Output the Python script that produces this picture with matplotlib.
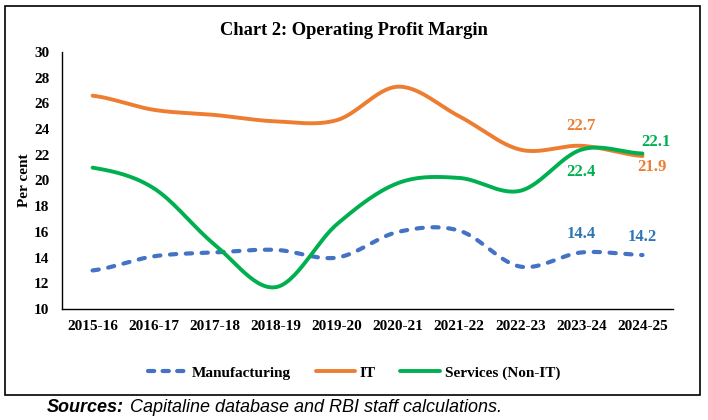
import numpy as np
import matplotlib.pyplot as plt
from matplotlib.patches import Rectangle
from matplotlib.lines import Line2D

years = ['2015-16', '2016-17', '2017-18', '2018-19', '2019-20',
         '2020-21', '2021-22', '2022-23', '2023-24', '2024-25']
manufacturing = [13.0, 14.1, 14.4, 14.6, 14.0, 16.0, 16.1, 13.3, 14.4, 14.2]
it = [26.6, 25.5, 25.1, 24.6, 24.7, 27.3, 25.0, 22.4, 22.7, 21.9]
services = [21.0, 19.4, 15.0, 11.7, 16.6, 19.8, 20.2, 19.2, 22.4, 22.1]

c_man = '#4472C4'
c_it = '#ED7D31'
c_srv = '#00B050'
c_man_lbl = '#2E75B6'


def smooth(y, n=30):
    # excel style smoothed line (catmull-rom between the points)
    y = np.asarray(y, dtype=float)
    p = np.concatenate([[y[0]], y, [y[-1]]])
    xs, ys = [], []
    t = np.linspace(0, 1, n, endpoint=False)
    for i in range(len(y) - 1):
        p0, p1, p2, p3 = p[i], p[i + 1], p[i + 2], p[i + 3]
        seg = 0.5 * ((2 * p1) + (-p0 + p2) * t
                     + (2 * p0 - 5 * p1 + 4 * p2 - p3) * t ** 2
                     + (-p0 + 3 * p1 - 3 * p2 + p3) * t ** 3)
        xs.append(i + t)
        ys.append(seg)
    xs.append([len(y) - 1])
    ys.append([y[-1]])
    return np.concatenate(xs), np.concatenate(ys)


plt.rcParams['font.family'] = 'Liberation Serif'
plt.rcParams['font.weight'] = 'bold'

fig = plt.figure(figsize=(7.08, 4.2), dpi=100)
ax = fig.add_axes([0.0876, 0.2643, 0.863, 0.6119])

x, y = smooth(manufacturing)
ax.plot(x, y, color=c_man, lw=3, dashes=(1.5, 2.3), dash_capstyle='round')
x, y = smooth(it)
ax.plot(x, y, color=c_it, lw=2.8, solid_capstyle='round')
x, y = smooth(services)
ax.plot(x, y, color=c_srv, lw=2.8, solid_capstyle='round')

ax.set_xlim(-0.5, 9.5)
ax.set_ylim(10, 30)
ax.set_yticks(np.arange(10, 31, 2))
ax.set_xticks(range(len(years)))
ax.set_xticklabels(years)
ax.tick_params(length=0, labelsize=11, pad=8)
ax.tick_params(axis='y', pad=9)
for s in ['top', 'right']:
    ax.spines[s].set_visible(False)
for s in ['left', 'bottom']:
    ax.spines[s].set_linewidth(1.0)
ax.set_ylabel('Per cent', fontsize=11, fontweight='bold', labelpad=2)

# data labels for last two years
lbl = dict(fontsize=12, fontweight='bold', ha='center', va='center')
ax.annotate(f'{it[8]}', (8, it[8]), xytext=(0, 14), textcoords='offset points', color=c_it, **lbl)
ax.annotate(f'{it[9]}', (9, it[9]), xytext=(7, -8), textcoords='offset points', color=c_it, **lbl)
ax.annotate(f'{services[8]}', (8, services[8]), xytext=(0, -16), textcoords='offset points', color=c_srv, **lbl)
ax.annotate(f'{services[9]}', (9, services[9]), xytext=(10, 8), textcoords='offset points', color=c_srv, **lbl)
ax.annotate(f'{manufacturing[8]}', (8, manufacturing[8]), xytext=(0, 13), textcoords='offset points', color=c_man_lbl, **lbl)
ax.annotate(f'{manufacturing[9]}', (9, manufacturing[9]), xytext=(0, 13), textcoords='offset points', color=c_man_lbl, **lbl)

fig.text(0.5, 0.928, 'Chart 2: Operating Profit Margin', ha='center', va='center',
         fontsize=13.3, fontweight='bold')

handles = [Line2D([], [], color=c_man, lw=3, dashes=(1.5, 2.0), dash_capstyle='round'),
           Line2D([], [], color=c_it, lw=2.8, solid_capstyle='round'),
           Line2D([], [], color=c_srv, lw=2.8, solid_capstyle='round')]
fig.legend(handles, ['Manufacturing', 'IT', 'Services (Non-IT)'], loc='center',
           bbox_to_anchor=(0.5, 0.112), ncol=3, frameon=False, fontsize=11,
           handlelength=2.6, handletextpad=0.3, columnspacing=1.6)

fig.patches.append(Rectangle((5 / 708, 1 - 395 / 420), 695 / 708, 389 / 420,
                             transform=fig.transFigure, fill=False, ec='black', lw=1.2))

fig.text(47 / 708, 1 - 407 / 420, 'Sources:', family='Liberation Sans', style='italic',
         fontweight='bold', fontsize=13, va='center', ha='left')
fig.text(130 / 708, 1 - 407 / 420, 'Capitaline database and RBI staff calculations.',
         family='Liberation Sans', style='italic', fontweight='normal', fontsize=13,
         va='center', ha='left')

fig.savefig('out.png', dpi=100)
